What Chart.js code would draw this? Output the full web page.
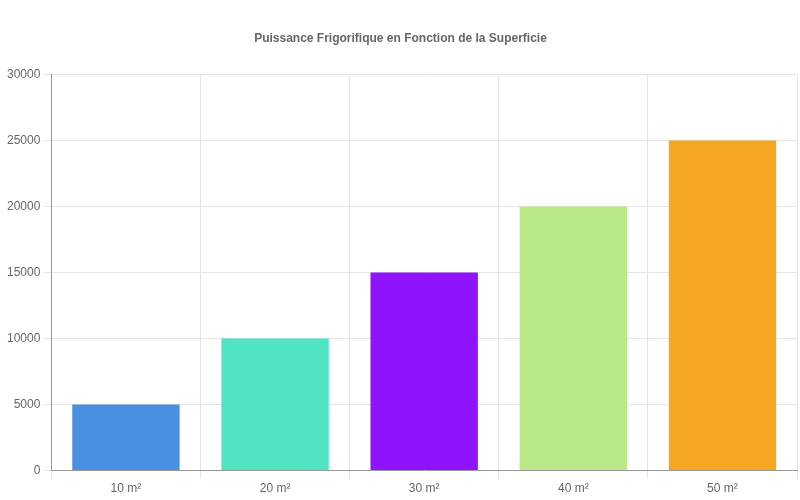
<!DOCTYPE html>
<html>
<head>
<meta charset="utf-8">
<script src="https://cdn.jsdelivr.net/npm/chart.js@4"></script>
<style>
  html, body { margin: 0; padding: 0; background: #fff; }
  #wrap { width: 800px; height: 500px; }
</style>
</head>
<body>
<div id="wrap"><canvas id="puissanceChart"></canvas></div>
<script>
const categories = ["10 m²", "20 m²", "30 m²", "40 m²", "50 m²"];
const puissance = [5000, 10000, 15000, 20000, 25000];
const barColors = ['#4a90e2', '#50e3c2', '#9013fe', '#b8e986', '#f5a623'];

Chart.defaults.font.family = "'Liberation Sans', Arial, sans-serif";
Chart.defaults.color = '#666';

const ctx = document.getElementById('puissanceChart').getContext('2d');
new Chart(ctx, {
    type: 'bar',
    data: {
        labels: categories,
        datasets: [{
            label: 'Puissance',
            data: puissance,
            backgroundColor: barColors,
            borderWidth: 0
        }]
    },
    options: {
        responsive: true,
        maintainAspectRatio: false,
        animation: false,
        layout: {
            padding: { top: 31, right: 3, bottom: 1, left: 4 }
        },
        plugins: {
            legend: { display: false },
            title: {
                display: true,
                text: 'Puissance Frigorifique en Fonction de la Superficie',
                color: '#666',
                font: { size: 12, weight: 'bold' },
                padding: { top: 0, bottom: 29 }
            },
            tooltip: { enabled: false }
        },
        scales: {
            x: {
                grid: { color: '#e5e5e5' },
                border: { color: '#999' },
                ticks: { font: { size: 12 } }
            },
            y: {
                min: 0,
                max: 30000,
                ticks: {
                    stepSize: 5000,
                    font: { size: 12 },
                    callback: function(value) { return String(value); }
                },
                grid: { color: '#e5e5e5' },
                border: { color: '#999' }
            }
        }
    }
});
</script>
</body>
</html>
